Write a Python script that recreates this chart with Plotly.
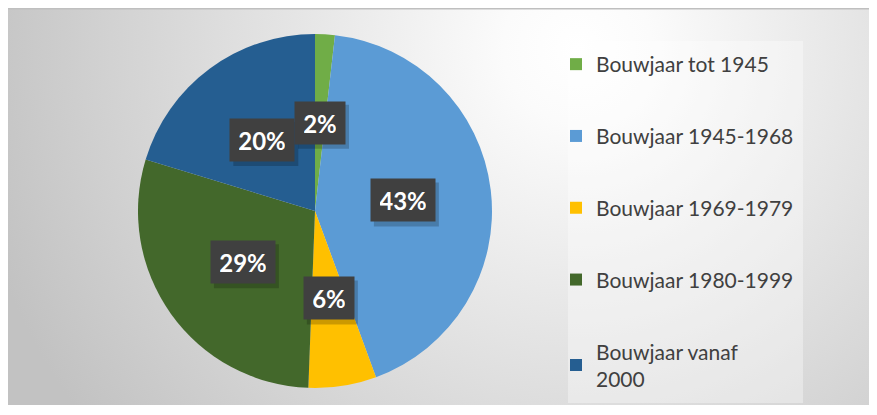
import base64
import math

import plotly.graph_objects as go

labels = [
    "Bouwjaar tot 1945",
    "Bouwjaar 1945-1968",
    "Bouwjaar 1969-1979",
    "Bouwjaar 1980-1999",
    "Bouwjaar vanaf<br>2000",
]
values = [1.8, 42.6, 6.2, 29.1, 20.3]
colors = ["#70AD47", "#5B9BD5", "#FFC000", "#43682B", "#255E91"]

# the page body has an 8px margin, so the figure starts at (8, 8) in the window
OFF = 8
W, H = 877 - OFF, 415 - OFF


def fx(x):
    return (x - OFF) / W


def fy(y):
    return 1 - (y - OFF) / H


cx, cy, R = 315, 211, 177  # pie centre and radius in window px

# radial gradient backdrop (Excel style chart area)
svg = """<svg xmlns='http://www.w3.org/2000/svg' width='870' height='400' viewBox='0 0 870 400' preserveAspectRatio='none'>
<defs><radialGradient id='g' gradientUnits='userSpaceOnUse' cx='570' cy='40' r='620'>
<stop offset='0' stop-color='#ffffff'/><stop offset='0.12' stop-color='#fbfbfb'/>
<stop offset='1' stop-color='#c2c2c2'/></radialGradient></defs>
<rect width='870' height='400' fill='url(#g)'/></svg>"""
bg_uri = "data:image/svg+xml;base64," + base64.b64encode(svg.encode()).decode()

fig = go.Figure()
fig.add_trace(
    go.Pie(
        labels=labels,
        values=values,
        sort=False,
        direction="clockwise",
        rotation=0,
        marker=dict(colors=colors, line=dict(width=0)),
        textinfo="none",
        hoverinfo="label+percent",
        showlegend=False,
        domain=dict(x=[fx(cx - R), fx(cx + R)], y=[fy(cy + R), fy(cy - R)]),
    )
)

# legend from dummy traces so the item spacing can be controlled
for lab, col in zip(labels, colors):
    fig.add_trace(
        go.Scatter(
            x=[None], y=[None], mode="markers", name=lab, legendgroup=lab,
            marker=dict(symbol="square", size=12, color=col),
        )
    )

shapes = [
    dict(type="rect", xref="paper", yref="paper", x0=fx(568), x1=fx(803),
         y0=fy(403), y1=fy(41), fillcolor="rgba(255,255,255,0.35)",
         line=dict(width=0), layer="below"),
    dict(type="line", xref="paper", yref="paper", x0=0, x1=1, y0=fy(8.8),
         y1=fy(8.8), line=dict(color="#bfbfbf", width=1.5)),
]

# data labels: dark boxes at half radius on each slice's mid angle
total = sum(values)
starts = []
acc = 0
for v in values:
    starts.append(acc)
    acc += v
annos = []
for v, s in reversed(list(zip(values, starts))):
    mid = math.radians((s + v / 2) / total * 360)
    px = cx + 0.5 * R * math.sin(mid)
    py = cy - 0.5 * R * math.cos(mid)
    txt = f"{round(v / total * 100)}%"
    bw, bh = 14 * len(txt) + 22, 42
    # soft drop shadow behind the box
    shapes.append(
        dict(type="rect", xref="paper", yref="paper", layer="above",
             x0=fx(px - bw / 2 + 3), x1=fx(px + bw / 2 + 4),
             y0=fy(py + bh / 2 + 5), y1=fy(py - bh / 2 + 3),
             fillcolor="rgba(0,0,0,0.2)", line=dict(width=0))
    )
    annos.append(
        dict(
            x=fx(px), y=fy(py),
            xref="paper", yref="paper", showarrow=False,
            xanchor="center", yanchor="middle",
            text=txt,
            font=dict(family="Lato", size=24, color="white", weight="bold"),
            bgcolor="#404040",
            borderpad=9, width=bw - 18, height=bh - 18,
        )
    )

fig.update_layout(
    width=W, height=H,
    margin=dict(l=0, r=0, t=0, b=0),
    paper_bgcolor="white",
    plot_bgcolor="rgba(0,0,0,0)",
    xaxis=dict(visible=False),
    yaxis=dict(visible=False),
    images=[dict(source=bg_uri, xref="paper", yref="paper", x=0, y=1,
                 sizex=1, sizey=fy(8) - fy(405), sizing="stretch", layer="below")],
    shapes=shapes,
    annotations=annos,
    legend=dict(
        x=fx(556), y=fy(44), xanchor="left", yanchor="top",
        bgcolor="rgba(0,0,0,0)", tracegroupgap=41.5,
        font=dict(family="Lato", size=21, color="#404040"),
    ),
)

fig.write_html("out.html")
